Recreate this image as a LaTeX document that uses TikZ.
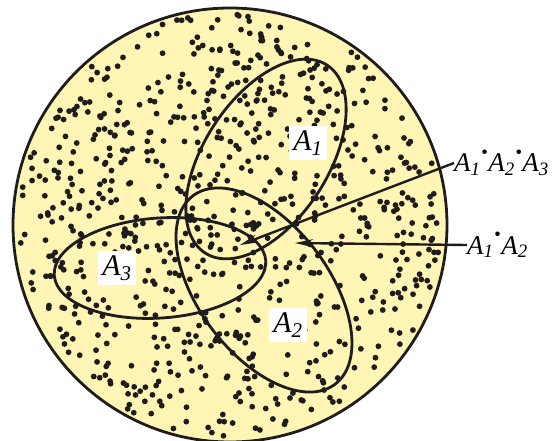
\documentclass[tikz,border=0pt]{standalone}
\usepackage{fontspec}
\setmainfont{Liberation Serif}
\usetikzlibrary{arrows.meta}
\definecolor{bgyellow}{RGB}{255,245,180}
\definecolor{ink}{RGB}{30,28,28}
\tikzset{
  outline/.style={line width=2.8pt, draw=ink},
  setlabel/.style={fill=white, inner sep=4pt, font=\fontsize{30}{32}\selectfont\itshape},
  extlabel/.style={inner sep=0pt, font=\fontsize{27}{29}\selectfont\itshape, anchor=west},
  pointer/.style={line width=2.4pt, draw=ink, -{Stealth[length=18pt,width=8pt]}},
  speck/.style={fill=ink}
}
\newcommand{\Sub}[1]{\textsubscript{#1}}
\newcommand{\Dt}{\kern0.02em\raisebox{0.5em}{\scalebox{0.7}{\textbullet}}\kern0.02em}
\begin{document}
\begin{tikzpicture}[x=1pt,y=1pt]
\useasboundingbox (0,0) rectangle (552,440);
\fill[bgyellow] (230,215) circle (217);
\pgfmathsetseed{11}
\foreach \i in {1,...,780}{
  \pgfmathsetmacro\rr{212*sqrt(rnd)}
  \pgfmathsetmacro\tt{360*rnd}
  \fill[speck] (230,215) ++(\tt:\rr) circle [radius=2.9pt];
}
\draw[outline] (230,215) circle (217);
\draw[outline] (266,281) ellipse [x radius=112, y radius=62, rotate=57];
\draw[outline] (160,172) ellipse [x radius=106, y radius=50, rotate=4];
\draw[outline] (264,150) ellipse [x radius=118, y radius=65, rotate=-53];
\node[setlabel] (a1) at (308,297) {A\Sub{1}};
\node[setlabel] (a3) at (117,172) {A\Sub{3}};
\node[setlabel] (a2) at (288,115) {A\Sub{2}};
\node[extlabel] (l123) at (454,277) {A\Sub{1}\Dt A\Sub{2}\Dt A\Sub{3}};
\node[extlabel] (l12) at (467,195) {A\Sub{1}\Dt A\Sub{2}};
\coordinate (t123) at (240,195);
\coordinate (t12) at (295,197);
\draw[pointer] (l123.west) -- (t123);
\draw[pointer] (l12.west) -- (t12);
\end{tikzpicture}
\end{document}
